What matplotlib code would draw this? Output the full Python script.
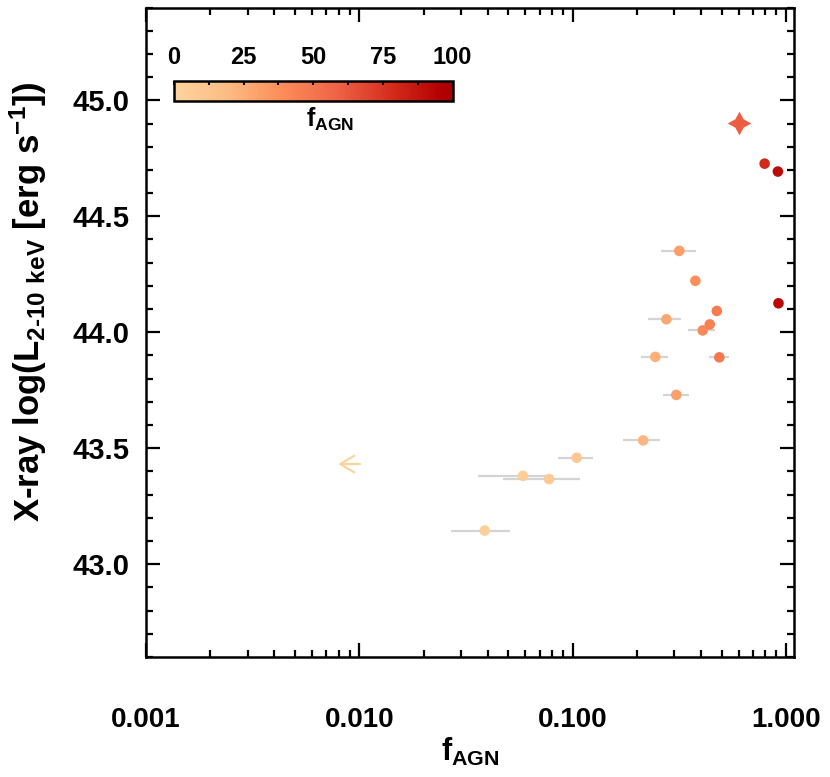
import numpy as np
import matplotlib
matplotlib.use('Agg')
import matplotlib.pyplot as plt
from matplotlib.colors import ListedColormap
from matplotlib.ticker import FixedLocator, MultipleLocator, FormatStrFormatter

plt.rcParams['font.family'] = ['Liberation Sans', 'DejaVu Sans']
plt.rcParams['font.weight'] = 'bold'
plt.rcParams['mathtext.default'] = 'regular'

# sources: f_AGN and log L(2-10 keV)
f_agn = [0.0387, 0.0585, 0.0775, 0.1045, 0.214, 0.306, 0.244, 0.487, 0.407,
         0.439, 0.275, 0.474, 0.376, 0.316, 0.922, 0.794, 0.916]
log_lx = [43.145, 43.381, 43.367, 43.459, 43.534, 43.730, 43.894, 43.892, 44.008,
          44.034, 44.056, 44.092, 44.222, 44.351, 44.125, 44.727, 44.693]
f_lo = [0.0269, 0.0359, 0.0472, 0.0852, 0.173, 0.265, 0.210, 0.437, 0.349,
        np.nan, 0.226, 0.450, np.nan, 0.260, np.nan, np.nan, np.nan]
f_hi = [0.0509, 0.0812, 0.1084, 0.1246, 0.256, 0.350, 0.279, 0.539, 0.467,
        np.nan, 0.323, 0.500, np.nan, 0.378, np.nan, np.nan, np.nan]

# special source (star)
star_f = 0.604
star_lx = 44.902

# upper limit
lim_f = 0.01007
lim_f_end = 0.00796
lim_lx = 43.432

cmap = ListedColormap(plt.cm.OrRd(np.linspace(0.25, 0.9, 256)))

x = np.array(f_agn)
y = np.array(log_lx)
xerr = [x - np.array(f_lo), np.array(f_hi) - x]

fig = plt.figure(figsize=(8.3, 7.77), dpi=100)
ax = fig.add_axes([0.1759, 0.1544, 0.7807, 0.8359])

ax.errorbar(x, y, xerr=xerr, fmt='none', ecolor='#d4d4d4', elinewidth=1.6, zorder=1)
sc = ax.scatter(x, y, c=x * 100, cmap=cmap, vmin=0, vmax=100, s=58,
                edgecolors='none', zorder=3)
ax.plot(star_f, star_lx, marker=(4, 1, 0), ms=17, color=cmap(star_f),
        mec='none', zorder=3)
ax.annotate('', xy=(lim_f_end, lim_lx), xytext=(lim_f, lim_lx),
            arrowprops=dict(arrowstyle='->,head_length=0.5,head_width=0.3',
                            color=cmap(0.0), lw=1.6, mutation_scale=20,
                            shrinkA=0, shrinkB=0))

ax.set_xscale('log')
ax.set_xlim(0.001, 1.09)
ax.set_ylim(42.6, 45.4)
ax.xaxis.set_major_locator(FixedLocator([0.001, 0.01, 0.1, 1.0]))
ax.xaxis.set_major_formatter(FormatStrFormatter('%.3f'))
ax.yaxis.set_major_locator(MultipleLocator(0.5))
ax.yaxis.set_minor_locator(MultipleLocator(0.1))
ax.yaxis.set_major_formatter(FormatStrFormatter('%.1f'))

for s in ax.spines.values():
    s.set_linewidth(1.8)
ax.tick_params(which='both', direction='in', top=True, right=True, width=1.6)
ax.tick_params(which='major', length=10)
ax.tick_params(which='minor', length=5)
ax.tick_params(axis='x', pad=36)
ax.tick_params(axis='y', pad=12)
for lb in ax.get_xticklabels():
    lb.set_fontsize(20)
    lb.set_weight('bold')
for lb in ax.get_yticklabels():
    lb.set_fontsize(21)
    lb.set_weight('bold')

ax.set_xlabel('f$_{AGN}$', fontsize=22, fontweight='bold', labelpad=2)
ax.set_ylabel('X-ray log(L$_{2\u201010\\ keV}$ [erg s$^{-1}$])', fontsize=25,
              fontweight='bold')
ax.yaxis.set_label_coords(-0.150, 0.547)

# colorbar
cax = fig.add_axes([0.2096, 0.870, 0.3358, 0.0257])
cb = fig.colorbar(sc, cax=cax, orientation='horizontal')
cb.set_ticks([0, 25, 50, 75, 100])
cb.outline.set_linewidth(1.8)
cax.xaxis.set_ticks_position('top')
cax.xaxis.set_minor_locator(MultipleLocator(12.5))
cax.tick_params(which='both', direction='in', length=3, width=1.5, labelsize=17, pad=9)
for lb in cax.get_xticklabels():
    lb.set_weight('bold')
cax.xaxis.set_label_position('bottom')
cax.set_xlabel('f$_{AGN}$', fontsize=18, fontweight='bold')
cax.xaxis.set_label_coords(0.56, -0.25)

fig.savefig('out.png', dpi=100)
